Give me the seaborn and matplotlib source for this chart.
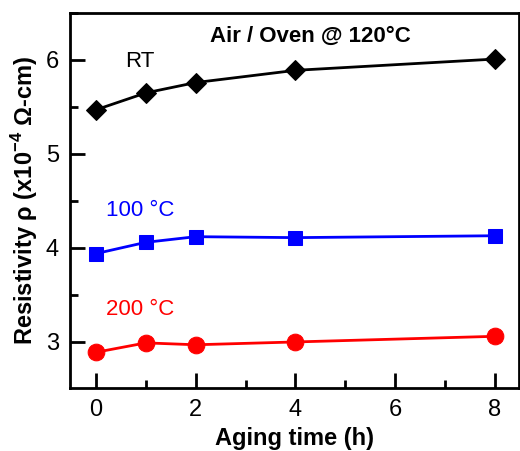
import matplotlib
matplotlib.use("Agg")
import matplotlib.pyplot as plt
import seaborn as sns
import pandas as pd
from matplotlib.ticker import MultipleLocator

aging_time = [0, 1, 2, 4, 8]
rt_values = [5.47, 5.65, 5.76, 5.89, 6.01]
c100_values = [3.94, 4.06, 4.12, 4.11, 4.13]
c200_values = [2.89, 2.99, 2.97, 3.00, 3.06]
series_names = ["RT", "100 °C", "200 °C"]
x_ticks = [0, 2, 4, 6, 8]
y_ticks = [3, 4, 5, 6]

sns.set_style("ticks")
plt.rcParams['font.family'] = ['Liberation Sans', 'DejaVu Sans']
plt.rcParams['mathtext.fontset'] = 'custom'
plt.rcParams['mathtext.rm'] = 'Liberation Sans'
plt.rcParams['mathtext.bf'] = 'Liberation Sans:bold'
for k in ['text.color', 'axes.labelcolor', 'xtick.color', 'ytick.color', 'axes.edgecolor']:
    plt.rcParams[k] = 'black'

rows = []
for name, vals in zip(series_names, [rt_values, c100_values, c200_values]):
    for t, v in zip(aging_time, vals):
        rows.append({"time": t, "rho": v, "series": name})
df = pd.DataFrame(rows)

colors = {"RT": "black", "100 °C": "#0000ff", "200 °C": "#ff0000"}
markers = {"RT": "D", "100 °C": "s", "200 °C": "o"}
msizes = {"RT": 10, "100 °C": 10, "200 °C": 12}

fig = plt.figure(figsize=(5.2, 4.51), dpi=100)
ax = fig.add_axes([70/520, 1 - 388/451, 449/520, 375/451])

for name in series_names:
    sub = df[df.series == name]
    sns.lineplot(data=sub, x="time", y="rho", ax=ax, color=colors[name],
                 marker=markers[name], markersize=msizes[name], linewidth=2,
                 markeredgecolor=colors[name], legend=False)

ax.set_xlim(-0.52, 8.48)
ax.set_ylim(2.51, 6.5)
ax.set_xticks(x_ticks)
ax.set_yticks(y_ticks)
ax.xaxis.set_minor_locator(MultipleLocator(1))
ax.yaxis.set_minor_locator(MultipleLocator(0.5))
ax.tick_params(which='major', direction='in', length=11, width=2, labelsize=17, pad=8, colors='black')
ax.tick_params(which='minor', direction='in', length=6, width=2, colors='black')
ax.tick_params(axis='x', which='both', top=False)
ax.tick_params(axis='y', which='both', right=False)
for s in ax.spines.values():
    s.set_linewidth(2)
    s.set_visible(True)
    s.set_color('black')

ax.set_xlabel("Aging time (h)", fontsize=17, fontweight='bold', labelpad=4)
ax.set_ylabel(r"Resistivity ρ (x10$^{\mathbf{-4}}$ Ω-cm)", fontsize=17, fontweight='bold', labelpad=4)

ax.text(0.88, 5.98, "RT", color="black", fontsize=16, ha='center', va='center')
ax.text(0.88, 4.4, "100 °C", color="#0000ff", fontsize=16, ha='center', va='center')
ax.text(0.88, 3.34, "200 °C", color="#ff0000", fontsize=16, ha='center', va='center')
ax.text(4.29, 6.25, "Air / Oven @ 120°C", color="black", fontsize=16, fontweight='bold', ha='center', va='center')

fig.savefig("out.png", dpi=100)
